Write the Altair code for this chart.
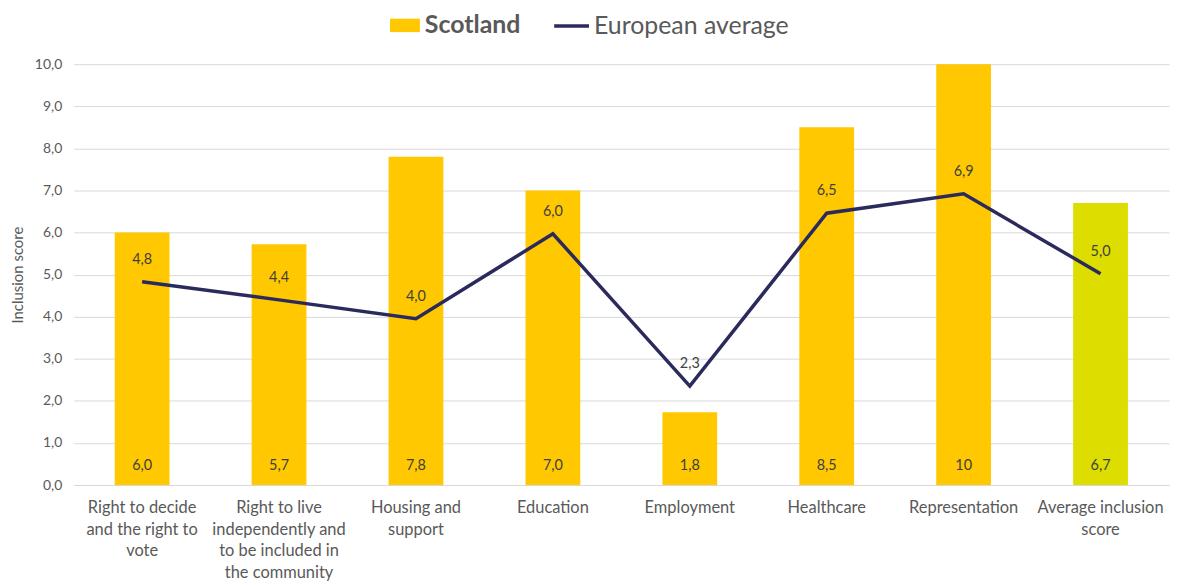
import altair as alt
import pandas as pd

categories = [
    "Right to decide and the right to vote",
    "Right to live independently and to be included in the community",
    "Housing and support",
    "Education",
    "Employment",
    "Healthcare",
    "Representation",
    "Average inclusion score",
]
wrapped = [
    "Right to decide|and the right to|vote",
    "Right to live|independently and|to be included in|the community",
    "Housing and|support",
    "Education",
    "Employment",
    "Healthcare",
    "Representation",
    "Average inclusion|score",
]
scotland = [6.0, 5.72, 7.8, 7.0, 1.73, 8.5, 10.0, 6.7]
scotland_labels = ["6,0", "5,7", "7,8", "7,0", "1,8", "8,5", "10", "6,7"]
european = [4.83, 4.4, 3.95, 5.97, 2.35, 6.46, 6.92, 5.02]
european_labels = ["4,8", "4,4", "4,0", "6,0", "2,3", "6,5", "6,9", "5,0"]
bar_group = ["Scotland"] * 7 + ["Average"]

df = pd.DataFrame({
    "category": categories,
    "scotland": scotland,
    "scotland_label": scotland_labels,
    "european": european,
    "european_label": european_labels,
    "group": bar_group,
    "line_series": ["European average"] * 8,
    "zero": [0] * 8,
})

FONT = "Lato"
label_map = "{" + ",".join(f"'{c}': '{w}'" for c, w in zip(categories, wrapped)) + "}"

x = alt.X(
    "category:N",
    sort=categories,
    scale=alt.Scale(paddingInner=0.6, paddingOuter=0.3),
    axis=alt.Axis(
        title=None,
        labelAngle=0,
        labelFontSize=16.5,
        labelColor="#595959",
        labelLineHeight=21.5,
        labelPadding=15,
        labelLimit=0,
        ticks=False,
        domainColor="#D9D9D9",
        labelExpr=f"split({label_map}[datum.value], '|')",
    ),
)

yscale = alt.Scale(domain=[0, 10], nice=False)

base = alt.Chart(df)

bars = base.mark_bar().encode(
    x=x,
    y=alt.Y(
        "scotland:Q",
        scale=yscale,
        axis=alt.Axis(
            title="Inclusion score",
            values=list(range(0, 11)),
            labelExpr="replace(format(datum.value, '.1f'), '.', ',')",
            labelFontSize=14,
            labelColor="#595959",
            labelPadding=12,
            ticks=False,
            domain=False,
            gridColor="#D9D9D9",
            titleFontSize=15,
            titleFontWeight="normal",
            titleColor="#595959",
            titlePadding=9,
        ),
    ),
    fill=alt.Fill(
        "group:N",
        scale=alt.Scale(domain=["Scotland", "Average"], range=["#FFC800", "#DDDD00"]),
        legend=alt.Legend(
            title=None,
            values=["Scotland"],
            orient="none",
            legendX=318,
            legendY=-54,
            symbolType="M-1,-0.45H1V0.45H-1Z",
            symbolSize=900,
            symbolStrokeWidth=0,
            labelFontSize=25,
            labelFontWeight="bold",
            labelColor="#595959",
            labelOffset=5,
            labelLimit=0,
        ),
    ),
)

line = base.mark_line(strokeWidth=3.5).encode(
    x=x,
    y=alt.Y("european:Q", scale=yscale),
    stroke=alt.Stroke(
        "line_series:N",
        scale=alt.Scale(range=["#2B2A5C"]),
        legend=alt.Legend(
            title=None,
            orient="none",
            legendX=481,
            legendY=-58,
            symbolType="stroke",
            symbolSize=1225,
            symbolStrokeWidth=3.5,
            labelFontSize=25,
            labelFontWeight="normal",
            labelColor="#595959",
            labelOffset=3,
            labelLimit=0,
        ),
    ),
)

bar_text = base.mark_text(fontSize=14.5, color="#404040", dy=-19, baseline="middle").encode(
    x=x,
    y=alt.Y("zero:Q", scale=yscale),
    text="scotland_label:N",
)

line_text = base.mark_text(fontSize=14.5, color="#404040", dy=-22, baseline="middle").encode(
    x=x,
    y=alt.Y("european:Q", scale=yscale),
    text="european_label:N",
)

chart = alt.layer(bars, line, bar_text, line_text).resolve_legend(
    fill="independent", stroke="independent"
).properties(
    width=1101,
    height=423,
    autosize="none",
    padding={"left": 66, "top": 55, "right": 2, "bottom": 98},
).configure(
    font=FONT,
).configure_view(
    stroke=None
)

chart.save("out.html", embed_options={"renderer": "svg", "actions": False})
